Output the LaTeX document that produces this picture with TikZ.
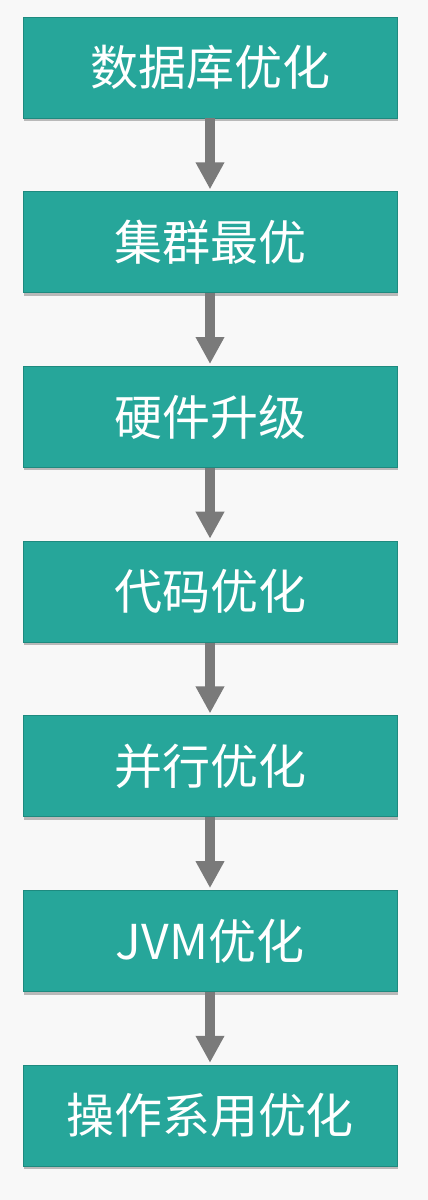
\documentclass[tikz,border=0pt]{standalone}
\usepackage{fontspec}
\newfontfamily\cjk{Noto Sans CJK SC}
\usetikzlibrary{arrows.meta,shadows}
\definecolor{bg}{HTML}{F8F8F8}
\definecolor{teal1}{HTML}{26A69A}
\definecolor{teal2}{HTML}{1E8A7F}
\definecolor{arrowgray}{HTML}{7A7A7A}
\tikzset{
  stepbox/.style={rectangle, draw=teal2, line width=0.8pt, fill=teal1,
    minimum width=374pt, minimum height=101pt, inner sep=0pt,
    text=white, font=\cjk\fontsize{48pt}{52pt}\selectfont,
    drop shadow={shadow xshift=1pt, shadow yshift=-3pt, opacity=0.25, fill=black}},
  flow/.style={draw=arrowgray, line width=10pt,
    -{Triangle[width=27pt,length=27pt]}, shorten >=2pt}
}
\begin{document}
\begin{tikzpicture}[x=1pt,y=1pt]
\fill[bg] (0,0) rectangle (428,-1200);
\useasboundingbox (0,0) rectangle (428,-1200);
\node[stepbox] (n1) at (210,-67.5) {数据库优化};
\node[stepbox] (n2) at (210,-242.2) {集群最优};
\node[stepbox] (n3) at (210,-416.9) {硬件升级};
\node[stepbox] (n4) at (210,-591.6) {代码优化};
\node[stepbox] (n5) at (210,-766.3) {并行优化};
\node[stepbox] (n6) at (210,-941.0) {JVM优化};
\node[stepbox] (n7) at (210,-1115.7) {操作系用优化};
\foreach \a/\b in {n1/n2,n2/n3,n3/n4,n4/n5,n5/n6,n6/n7}
  \draw[flow] (\a.south) -- (\b.north);
\end{tikzpicture}
\end{document}
